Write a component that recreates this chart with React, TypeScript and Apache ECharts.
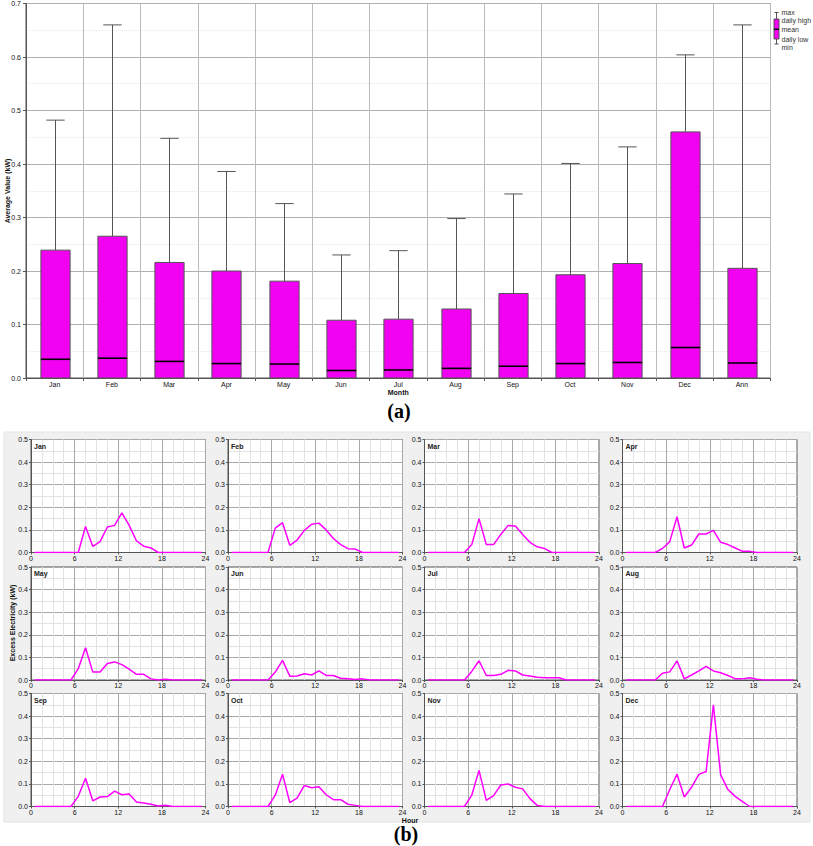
import React, { useEffect, useRef } from "react";
import * as echarts from "echarts";

// ---------- Data: chart (a) ----------
const CATEGORIES = ["Jan", "Feb", "Mar", "Apr", "May", "Jun", "Jul", "Aug", "Sep", "Oct", "Nov", "Dec", "Ann"];
const MAX_VALUES = [0.482, 0.66, 0.448, 0.386, 0.326, 0.23, 0.238, 0.298, 0.344, 0.401, 0.432, 0.604, 0.66];
const DAILY_HIGH = [0.239, 0.265, 0.216, 0.2, 0.181, 0.108, 0.11, 0.129, 0.158, 0.193, 0.214, 0.46, 0.205];
const MEAN_VALUES = [0.035, 0.037, 0.031, 0.027, 0.026, 0.014, 0.015, 0.018, 0.022, 0.027, 0.029, 0.057, 0.028];
const DAILY_LOW = [0, 0, 0, 0, 0, 0, 0, 0, 0, 0, 0, 0, 0];
const TOP_Y_TICKS = [0, 0.1, 0.2, 0.3, 0.4, 0.5, 0.6, 0.7];

// ---------- Data: chart (b) ----------
const HOURS = [0.5, 1.5, 2.5, 3.5, 4.5, 5.5, 6.5, 7.5, 8.5, 9.5, 10.5, 11.5, 12.5, 13.5, 14.5, 15.5, 16.5, 17.5, 18.5, 19.5, 20.5, 21.5, 22.5, 23.5];
const PANEL_MONTHS = ["Jan", "Feb", "Mar", "Apr", "May", "Jun", "Jul", "Aug", "Sep", "Oct", "Nov", "Dec"];
const JAN = [0, 0, 0, 0, 0, 0, 0, 0.115, 0.027, 0.048, 0.113, 0.12, 0.175, 0.12, 0.052, 0.028, 0.02, 0, 0, 0, 0, 0, 0, 0];
const FEB = [0, 0, 0, 0, 0, 0, 0.108, 0.132, 0.032, 0.055, 0.098, 0.125, 0.13, 0.1, 0.062, 0.035, 0.017, 0.015, 0, 0, 0, 0, 0, 0];
const MAR = [0, 0, 0, 0, 0, 0, 0.035, 0.15, 0.035, 0.035, 0.08, 0.12, 0.117, 0.08, 0.045, 0.025, 0.018, 0, 0, 0, 0, 0, 0, 0];
const APR = [0, 0, 0, 0, 0, 0.018, 0.048, 0.158, 0.02, 0.033, 0.082, 0.082, 0.098, 0.045, 0.035, 0.02, 0.005, 0.005, 0, 0, 0, 0, 0, 0];
const MAY = [0, 0, 0, 0, 0, 0, 0.05, 0.143, 0.035, 0.035, 0.073, 0.08, 0.068, 0.048, 0.025, 0.025, 0.005, 0, 0.003, 0, 0, 0, 0, 0];
const JUN = [0, 0, 0, 0, 0, 0, 0.035, 0.087, 0.017, 0.018, 0.028, 0.022, 0.04, 0.02, 0.02, 0.008, 0.006, 0.002, 0.005, 0, 0, 0, 0, 0];
const JUL = [0, 0, 0, 0, 0, 0, 0.038, 0.085, 0.02, 0.02, 0.025, 0.043, 0.04, 0.022, 0.018, 0.012, 0.01, 0.01, 0.01, 0, 0, 0, 0, 0];
const AUG = [0, 0, 0, 0, 0, 0.03, 0.036, 0.085, 0.005, 0.022, 0.04, 0.06, 0.04, 0.032, 0.02, 0.006, 0.005, 0.01, 0.003, 0, 0, 0, 0, 0];
const SEP = [0, 0, 0, 0, 0, 0, 0.045, 0.125, 0.025, 0.042, 0.044, 0.068, 0.052, 0.055, 0.02, 0.015, 0.01, 0.002, 0.006, 0, 0, 0, 0, 0];
const OCT = [0, 0, 0, 0, 0, 0, 0.05, 0.143, 0.017, 0.037, 0.093, 0.083, 0.087, 0.052, 0.03, 0.03, 0.01, 0.005, 0, 0, 0, 0, 0, 0];
const NOV = [0, 0, 0, 0, 0, 0, 0.05, 0.16, 0.027, 0.048, 0.095, 0.1, 0.085, 0.078, 0.035, 0.005, 0, 0, 0, 0, 0, 0, 0, 0];
const DEC = [0, 0, 0, 0, 0, 0, 0.075, 0.143, 0.042, 0.085, 0.142, 0.155, 0.45, 0.14, 0.075, 0.045, 0.022, 0, 0, 0, 0, 0, 0, 0];
const PANEL_SERIES = [JAN, FEB, MAR, APR, MAY, JUN, JUL, AUG, SEP, OCT, NOV, DEC];
const PANEL_X_TICKS = [0, 6, 12, 18, 24];
const PANEL_Y_TICKS = [0, 0.1, 0.2, 0.3, 0.4, 0.5];

const FONT = "Liberation Sans";
const MAGENTA = "#ff00ff";

export default function App() {
  const ref = useRef<HTMLDivElement>(null);

  useEffect(() => {
    if (!ref.current) return;
    const chart = echarts.init(ref.current, undefined, { renderer: "svg" });

    const grids: any[] = [];
    const xAxes: any[] = [];
    const yAxes: any[] = [];
    const series: any[] = [];
    const graphics: any[] = [];

    // background for part (b)
    graphics.push({
      type: "rect",
      z: -10,
      shape: { x: 4, y: 432, width: 806, height: 390 },
      style: { fill: "#f0f0f0", stroke: "#e4e4e4" },
      silent: true,
    });

    // ---------- chart (a) ----------
    grids.push({
      left: 26,
      top: 3.5,
      width: 744.5,
      height: 374.5,
      show: true,
      backgroundColor: "#ffffff",
      borderColor: "#555",
      borderWidth: 1,
    });
    xAxes.push({
      type: "category",
      gridIndex: 0,
      data: CATEGORIES,
      boundaryGap: true,
      axisLine: { show: true, lineStyle: { color: "#555" } },
      axisTick: { show: true, length: 3, lineStyle: { color: "#555" } },
      axisLabel: { fontSize: 7, color: "#111", fontFamily: FONT, margin: 3 },
      splitLine: { show: true, lineStyle: { color: "#bbbbbb", width: 1 } },
      name: "Month",
      nameLocation: "middle",
      nameGap: 11,
      nameTextStyle: { fontSize: 7, fontWeight: "bold", color: "#111", fontFamily: FONT },
    });
    yAxes.push({
      type: "value",
      gridIndex: 0,
      min: TOP_Y_TICKS[0],
      max: TOP_Y_TICKS[TOP_Y_TICKS.length - 1],
      interval: 0.1,
      axisLine: { show: true, lineStyle: { color: "#555" } },
      axisTick: { show: true, length: 3, lineStyle: { color: "#555" } },
      axisLabel: {
        fontSize: 7,
        color: "#111",
        fontFamily: FONT,
        margin: 5,
        formatter: (v: number) => v.toFixed(1),
      },
      splitLine: { show: true, lineStyle: { color: "#b0b0b0", width: 1 } },
      minorTick: { show: false, splitNumber: 2 },
      minorSplitLine: { show: true, lineStyle: { color: "#e8e8e8", type: "dotted" } },
    });
    series.push({
      type: "custom",
      xAxisIndex: 0,
      yAxisIndex: 0,
      z: 5,
      encode: { x: 0, y: [1, 2, 3, 4] },
      data: CATEGORIES.map((c, i) => [i, MAX_VALUES[i], DAILY_HIGH[i], MEAN_VALUES[i], DAILY_LOW[i]]),
      renderItem: (params: any, api: any) => {
        const idx = api.value(0);
        const pMax = api.coord([idx, api.value(1)]);
        const pHigh = api.coord([idx, api.value(2)]);
        const pMean = api.coord([idx, api.value(3)]);
        const pLow = api.coord([idx, api.value(4)]);
        const band = api.size([1, 0])[0];
        const bw = band * 0.51;
        const cw = band * 0.32;
        const cx = Math.round(pHigh[0]) + 0.5;
        return {
          type: "group",
          children: [
            {
              type: "line",
              shape: { x1: cx, y1: pMax[1], x2: cx, y2: pHigh[1] },
              style: { stroke: "#555", lineWidth: 1 },
            },
            {
              type: "line",
              shape: { x1: cx - cw / 2, y1: pMax[1], x2: cx + cw / 2, y2: pMax[1] },
              style: { stroke: "#555", lineWidth: 1 },
            },
            {
              type: "rect",
              shape: { x: cx - bw / 2, y: pHigh[1], width: bw, height: pLow[1] - pHigh[1] },
              style: { fill: "#f200f2", stroke: "#555", lineWidth: 1 },
            },
            {
              type: "line",
              shape: { x1: cx - bw / 2, y1: pMean[1], x2: cx + bw / 2, y2: pMean[1] },
              style: { stroke: "#000", lineWidth: 1.6 },
            },
          ],
        };
      },
    });

    // axis title (a)
    graphics.push({
      type: "text",
      x: 7,
      y: 191,
      rotation: Math.PI / 2,
      style: {
        text: "Average Value (kW)",
        fontSize: 7,
        fontWeight: "bold",
        fontFamily: FONT,
        fill: "#111",
        align: "center",
        verticalAlign: "middle",
      },
    });
    graphics.push({
      type: "text",
      x: 399,
      y: 411,
      style: {
        text: "(a)",
        fontSize: 20,
        fontWeight: "bold",
        fontFamily: "Liberation Serif",
        fill: "#000",
        align: "center",
        verticalAlign: "middle",
      },
    });

    // legend of (a)
    const lx = 776.5;
    graphics.push({ type: "line", shape: { x1: lx, y1: 12.5, x2: lx, y2: 19 }, style: { stroke: "#555", lineWidth: 1 } });
    graphics.push({ type: "line", shape: { x1: lx - 2, y1: 12.5, x2: lx + 2, y2: 12.5 }, style: { stroke: "#555", lineWidth: 1 } });
    graphics.push({ type: "line", shape: { x1: lx, y1: 39, x2: lx, y2: 44 }, style: { stroke: "#555", lineWidth: 1 } });
    graphics.push({ type: "line", shape: { x1: lx - 2, y1: 44, x2: lx + 2, y2: 44 }, style: { stroke: "#555", lineWidth: 1 } });
    graphics.push({ type: "rect", shape: { x: lx - 2.5, y: 19, width: 5, height: 20 }, style: { fill: "#f200f2", stroke: "#555", lineWidth: 1 } });
    graphics.push({ type: "line", shape: { x1: lx - 2.5, y1: 29.3, x2: lx + 2.5, y2: 29.3 }, style: { stroke: "#000", lineWidth: 1.4 } });
    const legendTexts: [string, number][] = [
      ["max", 12.3],
      ["daily high", 20],
      ["mean", 29.3],
      ["daily low", 39],
      ["min", 47],
    ];
    legendTexts.forEach(([t, y]) => {
      graphics.push({
        type: "text",
        x: 781.5,
        y,
        style: { text: t, fontSize: 7, fontFamily: FONT, fill: "#333", align: "left", verticalAlign: "middle" },
      });
    });

    // ---------- chart (b) ----------
    const colLeft = [31, 228, 424.5, 622.5];
    const rowTop = [439.5, 567, 693.5];
    const pw = 174.5;
    const ph = 113;
    PANEL_MONTHS.forEach((m, k) => {
      const r = Math.floor(k / 4);
      const c = k % 4;
      const gi = k + 1;
      grids.push({
        left: colLeft[c],
        top: rowTop[r],
        width: pw,
        height: ph,
        show: true,
        backgroundColor: "#ffffff",
        borderColor: "#555",
        borderWidth: 1,
      });
      xAxes.push({
        type: "value",
        gridIndex: gi,
        min: PANEL_X_TICKS[0],
        max: PANEL_X_TICKS[PANEL_X_TICKS.length - 1],
        interval: 6,
        axisLine: { show: true, onZero: false, lineStyle: { color: "#555" } },
        axisTick: { show: true, length: 2, lineStyle: { color: "#555" } },
        axisLabel: {
          fontSize: 7,
          color: "#111",
          fontFamily: FONT,
          margin: 2,
          showMinLabel: true,
          showMaxLabel: true,
        },
        splitLine: { show: true, lineStyle: { color: "#a8a8a8", width: 1 } },
        minorTick: { show: false, splitNumber: 4 },
        minorSplitLine: { show: true, lineStyle: { color: "#e2e2e2", width: 1 } },
      });
      yAxes.push({
        type: "value",
        gridIndex: gi,
        min: PANEL_Y_TICKS[0],
        max: PANEL_Y_TICKS[PANEL_Y_TICKS.length - 1],
        interval: 0.1,
        axisLine: { show: true, lineStyle: { color: "#555" } },
        axisTick: { show: true, length: 2, lineStyle: { color: "#555" } },
        axisLabel: {
          fontSize: 7,
          color: "#111",
          fontFamily: FONT,
          margin: 3,
          formatter: (v: number) => v.toFixed(1),
        },
        splitLine: { show: true, lineStyle: { color: "#a8a8a8", width: 1 } },
        minorTick: { show: false, splitNumber: 2 },
        minorSplitLine: { show: true, lineStyle: { color: "#e2e2e2", width: 1 } },
      });
      series.push({
        type: "line",
        xAxisIndex: gi,
        yAxisIndex: gi,
        z: 5,
        showSymbol: false,
        symbol: "none",
        lineStyle: { color: MAGENTA, width: 1.5 },
        data: HOURS.map((h, i) => [h, PANEL_SERIES[k][i]]),
      });
      graphics.push({
        type: "text",
        x: colLeft[c] + 3,
        y: rowTop[r] + 3,
        z: 10,
        style: { text: m, fontSize: 7, fontWeight: "bold", fontFamily: FONT, fill: "#222", align: "left", verticalAlign: "top" },
      });
    });

    graphics.push({
      type: "text",
      x: 12,
      y: 623,
      rotation: Math.PI / 2,
      style: {
        text: "Excess Electricity (kW)",
        fontSize: 7,
        fontWeight: "bold",
        fontFamily: FONT,
        fill: "#111",
        align: "center",
        verticalAlign: "middle",
      },
    });
    graphics.push({
      type: "text",
      x: 410,
      y: 820,
      style: { text: "Hour", fontSize: 7, fontWeight: "bold", fontFamily: FONT, fill: "#111", align: "center", verticalAlign: "middle" },
    });
    graphics.push({
      type: "text",
      x: 406,
      y: 834,
      style: {
        text: "(b)",
        fontSize: 20,
        fontWeight: "bold",
        fontFamily: "Liberation Serif",
        fill: "#000",
        align: "center",
        verticalAlign: "middle",
      },
    });

    chart.setOption({
      animation: false,
      backgroundColor: "#ffffff",
      grid: grids,
      xAxis: xAxes,
      yAxis: yAxes,
      series,
      graphic: { elements: graphics },
    });

    return () => {
      chart.dispose();
    };
  }, []);

  return (
    <div
      ref={ref}
      style={{ position: "absolute", left: 0, top: 0, width: 813, height: 846 }}
    />
  );
}
